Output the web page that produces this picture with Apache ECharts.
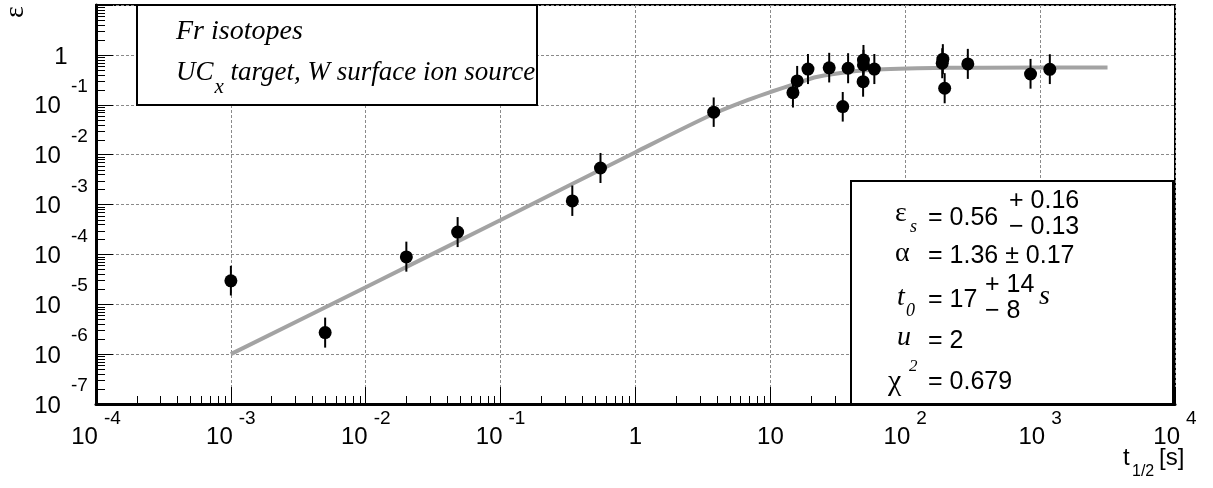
<!DOCTYPE html>
<html><head><meta charset="utf-8">
<script src="https://cdn.jsdelivr.net/npm/echarts@6/dist/echarts.min.js"></script>
<style>html,body{margin:0;padding:0;background:#fff}#c{width:1213px;height:488px}</style>
</head><body><div id="c"></div>
<script>
// ---- data ----
const halfLife   = [0.001, 0.005, 0.020, 0.048, 0.34, 0.55, 3.8, 14.7, 15.8, 19.0, 27.3, 34.4, 37.7, 49.0, 49.0, 48.7, 59.0, 188, 190, 196, 291, 849, 1180];
const efficiency = [2.95e-5, 2.7e-6, 8.9e-5, 2.8e-4, 1.18e-3, 5.4e-3, 0.071, 0.175, 0.30, 0.52, 0.55, 0.092, 0.54, 0.79, 0.63, 0.29, 0.52, 0.68, 0.82, 0.214, 0.66, 0.414, 0.514];
const errLow     = [1.5e-5, 1.35e-6, 4.5e-5, 1.4e-4, 5.9e-4, 2.7e-3, 0.036, 0.088, 0.15, 0.26, 0.28, 0.046, 0.27, 0.40, 0.32, 0.145, 0.26, 0.34, 0.41, 0.107, 0.33, 0.21, 0.26];
const errHigh    = [5.9e-5, 5.4e-6, 1.8e-4, 5.6e-4, 2.4e-3, 1.08e-2, 0.14, 0.35, 0.60, 1.04, 1.1, 0.18, 1.08, 1.58, 1.26, 0.58, 1.04, 1.36, 1.64, 0.43, 1.32, 0.83, 1.03];
const fitT   = [0.001, 0.01, 0.1, 1, 3.8, 7.1, 10, 15.8, 22, 39, 69, 123, 380, 3160];
const fitEps = [1.0e-6, 2.2e-5, 4.9e-4, 0.0112, 0.066, 0.13, 0.18, 0.27, 0.36, 0.46, 0.514, 0.539, 0.555, 0.56];
const xTickValues = [1e-4, 1e-3, 1e-2, 1e-1, 1, 10, 1e2, 1e3, 1e4];
const xTickLabels = ['10^-4', '10^-3', '10^-2', '10^-1', '1', '10', '10^2', '10^3', '10^4'];
const yTickValues = [1e-7, 1e-6, 1e-5, 1e-4, 1e-3, 1e-2, 1e-1, 1, 10];
const yTickLabels = ['10^-7', '10^-6', '10^-5', '10^-4', '10^-3', '10^-2', '10^-1', '1', ''];
const minorMultipliers = [2, 3, 4, 5, 6, 7, 8, 9];

const SANS = 'Liberation Sans', SERIF = 'Liberation Serif';

function richLabel(value, values, labels) {
  const lv = Math.log10(value);
  let k = -1;
  values.forEach((v, i) => { if (Math.abs(Math.log10(v) - lv) < 1e-6) k = i; });
  if (k < 0 || !labels[k]) return '';
  const p = labels[k].split('^');
  return p.length > 1 ? '{b|' + p[0] + '}{s|' + p[1] + '}' : '{b|' + p[0] + '}';
}

const xMinor = [], yMinor = [];
xTickValues.slice(0, -1).forEach(d => minorMultipliers.forEach(m => xMinor.push([m * d, yTickValues[0]])));
yTickValues.slice(0, -1).forEach(d => minorMultipliers.forEach(m => yMinor.push([xTickValues[0], m * d])));

const gridLine = { show: true, lineStyle: { color: '#8a8a8a', type: [3, 2], width: 1 } };

function txt(x, y, text, size, family, italic, extra) {
  return Object.assign({
    type: 'text', x: x, y: y, z: 101,
    style: { text: text, fontSize: size, fontFamily: family, fontStyle: italic ? 'italic' : 'normal',
             fill: '#000', align: 'left', verticalAlign: 'middle' }
  }, extra || {});
}

const yRich = {
  b: { fontSize: 24, lineHeight: 24, fontFamily: SANS, color: '#000', padding: [4, 0, 0, 0] },
  s: { fontSize: 19, lineHeight: 1, fontFamily: SANS, color: '#000', padding: [0, 0, 36, 10] }
};
function yAxisBase(extra) {
  return Object.assign({
    type: 'log', logBase: 10, min: yTickValues[0], max: yTickValues[yTickValues.length - 1], splitNumber: 8, position: 'left'
  }, extra);
}

const chart = echarts.init(document.getElementById('c'), null, { renderer: 'canvas' });
chart.setOption({
  animation: false,
  backgroundColor: '#fff',
  grid: { left: 96, right: 38, top: 5, bottom: 84, containLabel: false, outerBoundsMode: 'none',
          show: true, borderColor: '#000', borderWidth: 2, backgroundColor: 'transparent' },
  xAxis: {
    type: 'log', logBase: 10, min: 1e-4, max: 1e4, splitNumber: 8, position: 'bottom',
    axisLine: { show: true, onZero: false, lineStyle: { color: '#000', width: 3 } },
    axisTick: { show: true, inside: true, length: 17, lineStyle: { color: '#000', width: 1 } },
    splitLine: gridLine,
    axisLabel: {
      margin: 5, color: '#000', showMinLabel: true, showMaxLabel: true, hideOverlap: false,
      formatter: v => richLabel(v, xTickValues, xTickLabels),
      rich: {
        b: { fontSize: 24, lineHeight: 24, fontFamily: SANS, color: '#000', padding: [16, 0, 0, 0], verticalAlign: 'top' },
        s: { fontSize: 19, lineHeight: 19, fontFamily: SANS, color: '#000', padding: [0, 0, 0, 6], verticalAlign: 'top' }
      }
    }
  },
  yAxis: [
    yAxisBase({
      axisLine: { show: true, onZero: false, lineStyle: { color: '#000', width: 3 } },
      axisTick: { show: true, inside: true, length: 17, lineStyle: { color: '#000', width: 1 } },
      splitLine: gridLine,
      axisLabel: {
        margin: 35, align: 'center', color: '#000', showMinLabel: false, showMaxLabel: true, hideOverlap: false,
        formatter: v => richLabel(v, yTickValues, yTickLabels), rich: yRich
      }
    }),
    // carries only the bottom (minimum) tick label
    yAxisBase({
      axisLine: { show: false }, axisTick: { show: false }, splitLine: { show: false },
      axisLabel: {
        margin: 35, align: 'center', color: '#000', showMinLabel: true, showMaxLabel: false, hideOverlap: false,
        formatter: v => Math.abs(Math.log10(v) - Math.log10(yTickValues[0])) < 1e-6 ? richLabel(v, yTickValues, yTickLabels) : '',
        rich: yRich
      }
    })
  ],
  series: [
    { type: 'custom', silent: true, z: 1, clip: false, data: xMinor,
      renderItem: (params, api) => {
        const p = api.coord([api.value(0), api.value(1)]);
        const x = Math.round(p[0]) + 0.5;
        return { type: 'line', shape: { x1: x, y1: p[1], x2: x, y2: p[1] - 8 }, style: { stroke: '#000', lineWidth: 1 } };
      } },
    { type: 'custom', silent: true, z: 1, clip: false, data: yMinor,
      renderItem: (params, api) => {
        const p = api.coord([api.value(0), api.value(1)]);
        const y = Math.round(p[1]) + 0.5;
        return { type: 'line', shape: { x1: p[0], y1: y, x2: p[0] + 9, y2: y }, style: { stroke: '#000', lineWidth: 1 } };
      } },
    { type: 'line', name: 'fit', z: 3, showSymbol: false, symbol: 'none', smooth: 0.3,
      data: fitT.map((t, i) => [t, fitEps[i]]),
      lineStyle: { color: '#a3a3a3', width: 4 } },
    { type: 'custom', name: 'err', z: 4, silent: true,
      data: halfLife.map((t, i) => [t, errLow[i], errHigh[i]]),
      encode: { x: 0, y: [1, 2] },
      renderItem: (params, api) => {
        const lo = api.coord([api.value(0), api.value(1)]);
        const hi = api.coord([api.value(0), api.value(2)]);
        return { type: 'line', shape: { x1: lo[0], y1: lo[1], x2: hi[0], y2: hi[1] }, style: { stroke: '#000', lineWidth: 2 } };
      } },
    { type: 'scatter', name: 'data', z: 5, symbol: 'circle', symbolSize: 13,
      data: halfLife.map((t, i) => [t, efficiency[i]]),
      itemStyle: { color: '#000', opacity: 1 }, emphasis: { disabled: true } }
  ],
  graphic: [
    { type: 'rect', z: 100, shape: { x: 137, y: 5, width: 400, height: 100 }, style: { fill: '#fff', stroke: '#000', lineWidth: 2 } },
    { type: 'rect', z: 100, shape: { x: 851, y: 181, width: 322, height: 223 }, style: { fill: '#fff', stroke: '#000', lineWidth: 2 } },
    txt(176, 32, 'Fr isotopes', 28, SERIF, true),
    { type: 'text', x: 176, y: 59, z: 101,
      style: { text: '{n|UC}{sub|x}{n| target, W surface ion source}', align: 'left', verticalAlign: 'top', fill: '#000',
        rich: {
          n: { fontSize: 27, lineHeight: 27, fontFamily: SERIF, fontStyle: 'italic', fill: '#000', verticalAlign: 'top' },
          sub: { fontSize: 21, lineHeight: 21, fontFamily: SERIF, fontStyle: 'italic', fill: '#000', verticalAlign: 'top', padding: [18, 0, 0, 1] }
        } } },
    // stats box
    txt(895, 214, 'ε', 28, SERIF, false),
    txt(910, 227, 's', 18, SERIF, true),
    txt(928, 218, '= 0.56', 25, SANS, false),
    txt(1009, 201, '+ 0.16', 25, SANS, false),
    txt(1009, 227, '− 0.13', 25, SANS, false),
    txt(895, 254, 'α', 28, SERIF, false),
    txt(928, 256, '= 1.36 ± 0.17', 25, SANS, false),
    txt(897, 298, 't', 28, SERIF, true),
    txt(906, 311, '0', 18, SERIF, true),
    txt(928, 300, '= 17', 25, SANS, false),
    txt(985, 285, '+ 14', 25, SANS, false),
    txt(985, 311, '− 8', 25, SANS, false),
    txt(1039, 297, 's', 28, SERIF, true),
    txt(897, 338, 'u', 28, SERIF, true),
    txt(928, 341, '= 2', 25, SANS, false),
    txt(888, 382, 'χ', 30, SERIF, false),
    txt(909, 367, '2', 17, SERIF, true),
    txt(928, 382, '= 0.679', 25, SANS, false),
    // axis titles
    txt(1123, 458, 't', 24, SANS, false),
    txt(1132, 472, '1/2', 16, SANS, false),
    txt(1159, 458, '[s]', 24, SANS, false),
    { type: 'text', x: 16, y: 12, z: 101, rotation: Math.PI / 2,
      style: { text: 'ε', fontSize: 28, fontFamily: SERIF, fill: '#000', align: 'center', verticalAlign: 'middle' } }
  ]
});
</script></body></html>
